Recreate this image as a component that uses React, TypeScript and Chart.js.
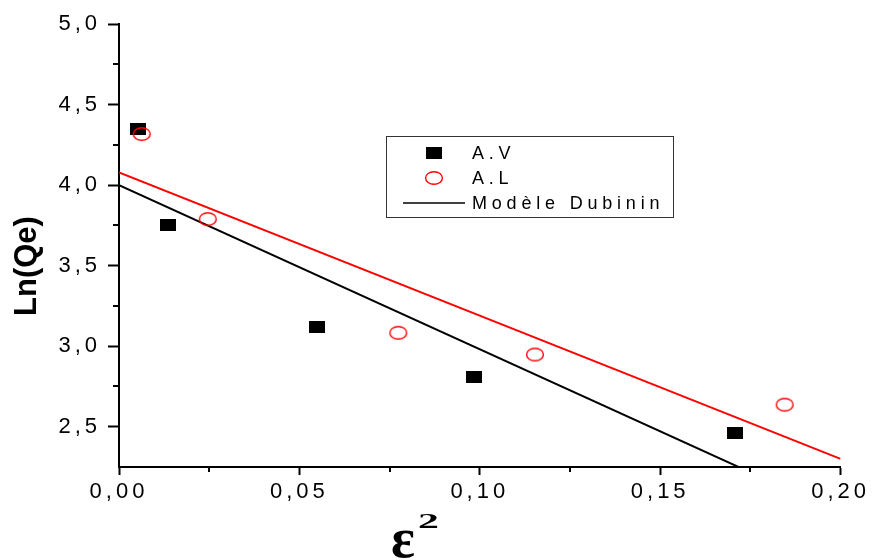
import React, { useEffect, useRef } from 'react';
import { Chart, registerables } from 'chart.js';

Chart.register(...registerables);

// ---- data ----
const avX = [0.0052, 0.0136, 0.055, 0.0983, 0.1708];
const avY = [4.351, 3.751, 3.121, 2.811, 2.458];
const alX = [0.0063, 0.0246, 0.0774, 0.1153, 0.1845];
const alY = [4.317, 3.789, 3.083, 2.948, 2.637];
const fitAvX = [0, 0.2];
const fitAvY = [4.0, 1.962];
const fitAlX = [0, 0.2];
const fitAlY = [4.078, 2.3];
const xTicks = [0, 0.05, 0.1, 0.15, 0.2];
const xMinorTicks = [0.025, 0.075, 0.125, 0.175];
const yTicks = [2.5, 3.0, 3.5, 4.0, 4.5, 5.0];
const yMinorTicks = [2.75, 3.25, 3.75, 4.25, 4.75];
const seriesLabels = ['A.V', 'A.L', 'Modèle Dubinin'];
const xTitle = 'ε';
const xTitleSup = '2';
const yTitle = 'Ln(Qe)';

const toPts = (xs: number[], ys: number[]) => xs.map((x, i) => ({ x, y: ys[i] }));
const comma = (v: number, d: number) => v.toFixed(d).replace('.', ',');

function makeRect(): HTMLCanvasElement {
  const c = document.createElement('canvas');
  c.width = 16;
  c.height = 12;
  const g = c.getContext('2d')!;
  g.fillStyle = '#000';
  g.fillRect(0, 0, 16, 12);
  return c;
}

function makeEllipse(): HTMLCanvasElement {
  const c = document.createElement('canvas');
  c.width = 20;
  c.height = 16;
  const g = c.getContext('2d')!;
  g.strokeStyle = '#ff0000';
  g.lineWidth = 1.4;
  g.beginPath();
  g.ellipse(10, 8, 8.4, 6.3, 0, 0, Math.PI * 2);
  g.stroke();
  return c;
}

const FONT = "'Liberation Sans', Arial, sans-serif";
const SERIF = "'Liberation Serif', 'Times New Roman', serif";

export default function App() {
  const ref = useRef<HTMLCanvasElement | null>(null);

  useEffect(() => {
    if (!ref.current) return;
    const rectImg = makeRect();
    const ellImg = makeEllipse();

    const spacing = {
      id: 'spacing',
      beforeLayout(chart: any) {
        (chart.ctx as any).letterSpacing = '4px';
      },
      beforeDraw(chart: any) {
        (chart.ctx as any).letterSpacing = '4px';
      },
    };

    const extras = {
      id: 'extras',
      afterDraw(chart: any) {
        const ctx = chart.ctx as CanvasRenderingContext2D;
        const xs = chart.scales.x;
        const ys = chart.scales.y;
        const ca = chart.chartArea;
        ctx.save();
        // minor ticks
        ctx.strokeStyle = '#000';
        ctx.lineWidth = 2;
        ctx.beginPath();
        xMinorTicks.forEach((v) => {
          const px = Math.round(xs.getPixelForValue(v));
          ctx.moveTo(px, ca.bottom);
          ctx.lineTo(px, ca.bottom + 5);
        });
        yMinorTicks.forEach((v) => {
          const py = Math.round(ys.getPixelForValue(v));
          ctx.moveTo(ca.left, py);
          ctx.lineTo(ca.left - 6, py);
        });
        ctx.stroke();

        // axis titles
        (ctx as any).letterSpacing = '0px';
        ctx.fillStyle = '#000';
        ctx.textAlign = 'left';
        ctx.textBaseline = 'alphabetic';
        ctx.font = `bold 56px ${SERIF}`;
        ctx.fillText(xTitle, 391, 557);
        ctx.save();
        ctx.translate(418, 528);
        ctx.scale(1.9, 1);
        ctx.font = `bold 22px ${SERIF}`;
        ctx.fillText(xTitleSup, 0, 0);
        ctx.restore();

        ctx.save();
        ctx.translate(27, 266);
        ctx.rotate(-Math.PI / 2);
        ctx.textAlign = 'center';
        ctx.textBaseline = 'middle';
        ctx.font = `bold 31px ${FONT}`;
        ctx.fillText(yTitle, 0, 0);
        ctx.restore();

        // legend box
        const bx = 386, by = 136, bw = 287, bh = 81;
        ctx.fillStyle = '#fff';
        ctx.fillRect(bx, by, bw, bh);
        ctx.strokeStyle = '#333';
        ctx.lineWidth = 1;
        ctx.strokeRect(bx + 0.5, by + 0.5, bw, bh);
        const rows = [153, 178, 203];
        ctx.drawImage(rectImg, 434 - 8, rows[0] - 6);
        ctx.drawImage(ellImg, 434 - 10, rows[1] - 8);
        ctx.strokeStyle = '#000';
        ctx.lineWidth = 1.5;
        ctx.beginPath();
        ctx.moveTo(403, rows[2]);
        ctx.lineTo(465, rows[2]);
        ctx.stroke();
        (ctx as any).letterSpacing = '4.8px';
        ctx.font = `18px ${FONT}`;
        ctx.textAlign = 'left';
        ctx.textBaseline = 'middle';
        ctx.fillStyle = '#000';
        seriesLabels.forEach((t, i) => ctx.fillText(t, 472, rows[i] + 1));
        ctx.restore();
      },
    };

    const chart = new Chart(ref.current, {
      type: 'scatter',
      data: {
        datasets: [
          {
            label: seriesLabels[2],
            data: toPts(fitAvX, fitAvY),
            showLine: true,
            borderColor: '#000',
            borderWidth: 2,
            pointRadius: 0,
            order: 3,
          },
          {
            label: seriesLabels[2] + ' A.L',
            data: toPts(fitAlX, fitAlY),
            showLine: true,
            borderColor: '#ff0000',
            borderWidth: 2,
            pointRadius: 0,
            order: 2,
          },
          {
            label: seriesLabels[0],
            data: toPts(avX, avY),
            pointStyle: rectImg as any,
            pointRadius: 8,
            showLine: false,
            order: 1,
          },
          {
            label: seriesLabels[1],
            data: toPts(alX, alY),
            pointStyle: ellImg as any,
            pointRadius: 8,
            showLine: false,
            order: 0,
          },
        ],
      },
      options: {
        responsive: false,
        animation: false,
        events: [],
        layout: { padding: { top: 24, right: 32, left: 0, bottom: 0 } },
        plugins: {
          legend: { display: false },
          tooltip: { enabled: false },
        },
        scales: {
          x: {
            type: 'linear',
            min: 0,
            max: 0.2,
            afterBuildTicks: (s: any) => {
              s.ticks = xTicks.map((value) => ({ value }));
            },
            afterFit: (s: any) => {
              s.height = 93;
            },
            ticks: {
              color: '#000',
              font: { family: FONT, size: 22 },
              padding: 4,
              maxRotation: 0,
              autoSkip: false,
              callback: (v: any) => comma(Number(v), 2),
            },
            grid: {
              drawOnChartArea: false,
              drawTicks: true,
              tickLength: 8,
              tickColor: '#000',
              tickWidth: 2,
            },
            border: { display: true, color: '#000', width: 2 },
          },
          y: {
            type: 'linear',
            min: 2.25,
            max: 5.0,
            afterBuildTicks: (s: any) => {
              s.ticks = yTicks.map((value) => ({ value }));
            },
            afterFit: (s: any) => {
              s.width = 119;
            },
            ticks: {
              color: '#000',
              font: { family: FONT, size: 22 },
              padding: 7,
              autoSkip: false,
              callback: (v: any) => comma(Number(v), 1),
            },
            grid: {
              drawOnChartArea: false,
              drawTicks: true,
              tickLength: 11,
              tickColor: '#000',
              tickWidth: 2,
            },
            border: { display: true, color: '#000', width: 2 },
          },
        },
      },
      plugins: [spacing, extras],
    });
    return () => chart.destroy();
  }, []);

  return (
    <div style={{ position: 'fixed', left: 0, top: 0, width: 874, height: 560, background: '#fff' }}>
      <canvas ref={ref} width={874} height={560} style={{ display: 'block' }} />
    </div>
  );
}
